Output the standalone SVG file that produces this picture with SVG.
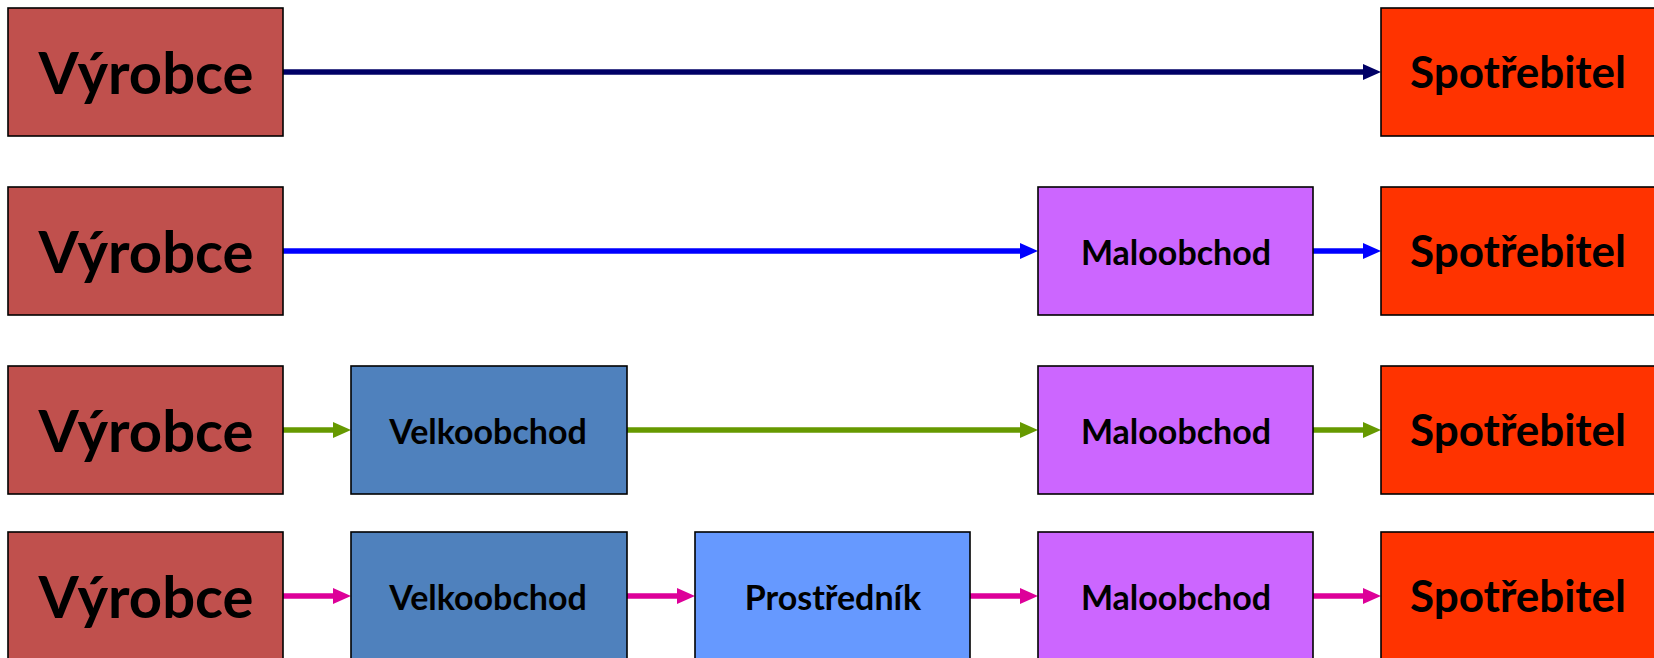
<svg xmlns="http://www.w3.org/2000/svg" width="1654" height="658" viewBox="0 0 1654 658">
<style>
.box{stroke:#000;stroke-width:1.6}
.vyr{fill:#C0504D}
.spo{fill:#FF3300}
.mal{fill:#CC66FF}
.vel{fill:#4F81BD}
.pro{fill:#6699FF}
text{font-family:Lato,"Open Sans","Liberation Sans",sans-serif;font-weight:bold;fill:#000;text-anchor:middle}
.big{font-size:58px}
.mid{font-size:44px}
.sm{font-size:34px}
.c{stroke-width:5.5;fill:none}
</style>
<defs>
<marker id="a1" markerUnits="userSpaceOnUse" markerWidth="18" markerHeight="16" refX="8" refY="8" orient="auto"><path d="M0,0 L18,8 L0,16 z" fill="#000066"/></marker>
<marker id="a2" markerUnits="userSpaceOnUse" markerWidth="18" markerHeight="16" refX="8" refY="8" orient="auto"><path d="M0,0 L18,8 L0,16 z" fill="#0000FF"/></marker>
<marker id="a3" markerUnits="userSpaceOnUse" markerWidth="18" markerHeight="16" refX="8" refY="8" orient="auto"><path d="M0,0 L18,8 L0,16 z" fill="#669900"/></marker>
<marker id="a4" markerUnits="userSpaceOnUse" markerWidth="18" markerHeight="16" refX="8" refY="8" orient="auto"><path d="M0,0 L18,8 L0,16 z" fill="#DD0099"/></marker>
</defs>
<g id="connectors">
<line class="c" x1="283" y1="72" x2="1371" y2="72" stroke="#000066" marker-end="url(#a1)"/>
<line class="c" x1="283" y1="251" x2="1028" y2="251" stroke="#0000FF" marker-end="url(#a2)"/>
<line class="c" x1="1313" y1="251" x2="1371" y2="251" stroke="#0000FF" marker-end="url(#a2)"/>
<line class="c" x1="283" y1="430" x2="341" y2="430" stroke="#669900" marker-end="url(#a3)"/>
<line class="c" x1="627" y1="430" x2="1028" y2="430" stroke="#669900" marker-end="url(#a3)"/>
<line class="c" x1="1313" y1="430" x2="1371" y2="430" stroke="#669900" marker-end="url(#a3)"/>
<line class="c" x1="283" y1="596" x2="341" y2="596" stroke="#DD0099" marker-end="url(#a4)"/>
<line class="c" x1="627" y1="596" x2="685" y2="596" stroke="#DD0099" marker-end="url(#a4)"/>
<line class="c" x1="970" y1="596" x2="1028" y2="596" stroke="#DD0099" marker-end="url(#a4)"/>
<line class="c" x1="1313" y1="596" x2="1371" y2="596" stroke="#DD0099" marker-end="url(#a4)"/>
</g>
<g id="vyrobce1"><rect class="box vyr" x="8" y="8" width="275" height="128"/><text class="big" x="146" y="94">Výrobce</text></g>
<g id="spotrebitel1"><rect class="box spo" x="1381" y="8" width="280" height="128"/><text class="mid" x="1518" y="88">Spotřebitel</text></g>
<g id="vyrobce2"><rect class="box vyr" x="8" y="187" width="275" height="128"/><text class="big" x="146" y="273">Výrobce</text></g>
<g id="maloobchod2"><rect class="box mal" x="1038" y="187" width="275" height="128"/><text class="sm" x="1176" y="265">Maloobchod</text></g>
<g id="spotrebitel2"><rect class="box spo" x="1381" y="187" width="280" height="128"/><text class="mid" x="1518" y="267">Spotřebitel</text></g>
<g id="vyrobce3"><rect class="box vyr" x="8" y="366" width="275" height="128"/><text class="big" x="146" y="452">Výrobce</text></g>
<g id="velkoobchod3"><rect class="box vel" x="351" y="366" width="276" height="128"/><text class="sm" x="488" y="444">Velkoobchod</text></g>
<g id="maloobchod3"><rect class="box mal" x="1038" y="366" width="275" height="128"/><text class="sm" x="1176" y="444">Maloobchod</text></g>
<g id="spotrebitel3"><rect class="box spo" x="1381" y="366" width="280" height="128"/><text class="mid" x="1518" y="446">Spotřebitel</text></g>
<g id="vyrobce4"><rect class="box vyr" x="8" y="532" width="275" height="128"/><text class="big" x="146" y="618">Výrobce</text></g>
<g id="velkoobchod4"><rect class="box vel" x="351" y="532" width="276" height="128"/><text class="sm" x="488" y="610">Velkoobchod</text></g>
<g id="prostrednik4"><rect class="box pro" x="695" y="532" width="275" height="128"/><text class="sm" x="833" y="610">Prostředník</text></g>
<g id="maloobchod4"><rect class="box mal" x="1038" y="532" width="275" height="128"/><text class="sm" x="1176" y="610">Maloobchod</text></g>
<g id="spotrebitel4"><rect class="box spo" x="1381" y="532" width="280" height="128"/><text class="mid" x="1518" y="612">Spotřebitel</text></g>
</svg>
